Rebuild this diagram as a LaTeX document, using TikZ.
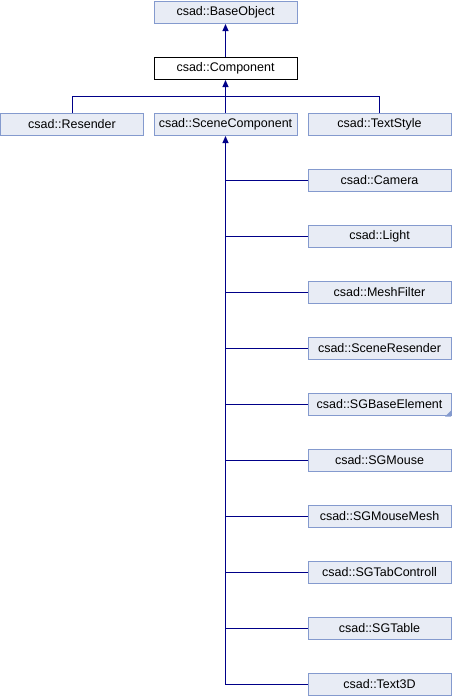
\documentclass[tikz,border=0pt]{standalone}
\usepackage{fontspec}
\setmainfont{Liberation Sans}
\usetikzlibrary{arrows.meta}
\definecolor{boxfill}{RGB}{232,236,245}
\definecolor{boxline}{RGB}{132,154,206}
\definecolor{edge}{RGB}{0,0,136}
\tikzset{
  cls/.style={draw=boxline, fill=boxfill, line width=1pt, minimum width=143pt, minimum height=22pt, inner sep=0pt, font=\fontsize{12.5}{14}\selectfont},
  cur/.style={cls, draw=black, fill=white},
  link/.style={draw=edge, line width=1pt},
  inh/.style={link, -{Triangle[length=7pt,width=6pt]}},
}
\begin{document}
\begin{tikzpicture}[x=1pt,y=-1pt]
\useasboundingbox (0,0) rectangle (452,696);
\node[cls] (base) at (225.5,12.5) {csad::BaseObject};
\node[cur] (comp) at (225.5,68.5) {csad::Component};
\node[cls] (res) at (72,124.5) {csad::Resender};
\node[cls] (sc) at (225.5,124.5) {csad::SceneComponent};
\node[cls] (ts) at (379.5,124.5) {csad::TextStyle};
\node[cls] (cam) at (379.5,180.5) {csad::Camera};
\node[cls] (light) at (379.5,236.5) {csad::Light};
\node[cls] (mf) at (379.5,292.5) {csad::MeshFilter};
\node[cls] (sr) at (379.5,348.5) {csad::SceneResender};
\node[cls] (sgb) at (379.5,404.5) {csad::SGBaseElement};
\node[cls] (sgm) at (379.5,460.5) {csad::SGMouse};
\node[cls] (sgmm) at (379.5,516.5) {csad::SGMouseMesh};
\node[cls] (sgtc) at (379.5,572.5) {csad::SGTabControll};
\node[cls] (sgt) at (379.5,628.5) {csad::SGTable};
\node[cls] (t3d) at (379.5,684.5) {csad::Text3D};
\fill[boxline] ([xshift=-0.5pt,yshift=-0.5pt]sgb.south east) -- ++(-6,0) -- ++(6,-6) -- cycle;
% edges
\draw[inh] (comp.north) -- (base.south);
\coordinate (j) at (225.5,96);
\draw[inh] (sc.north) -- (comp.south);
\draw[link] (res.north) |- (j);
\draw[link] (ts.north) |- (j);
\draw[inh] (t3d.west) -| (sc.south);
\foreach \n in {cam,light,mf,sr,sgb,sgm,sgmm,sgtc,sgt}
  \draw[link] (\n.west) -- (\n.west -| sc.south);
\end{tikzpicture}
\end{document}
